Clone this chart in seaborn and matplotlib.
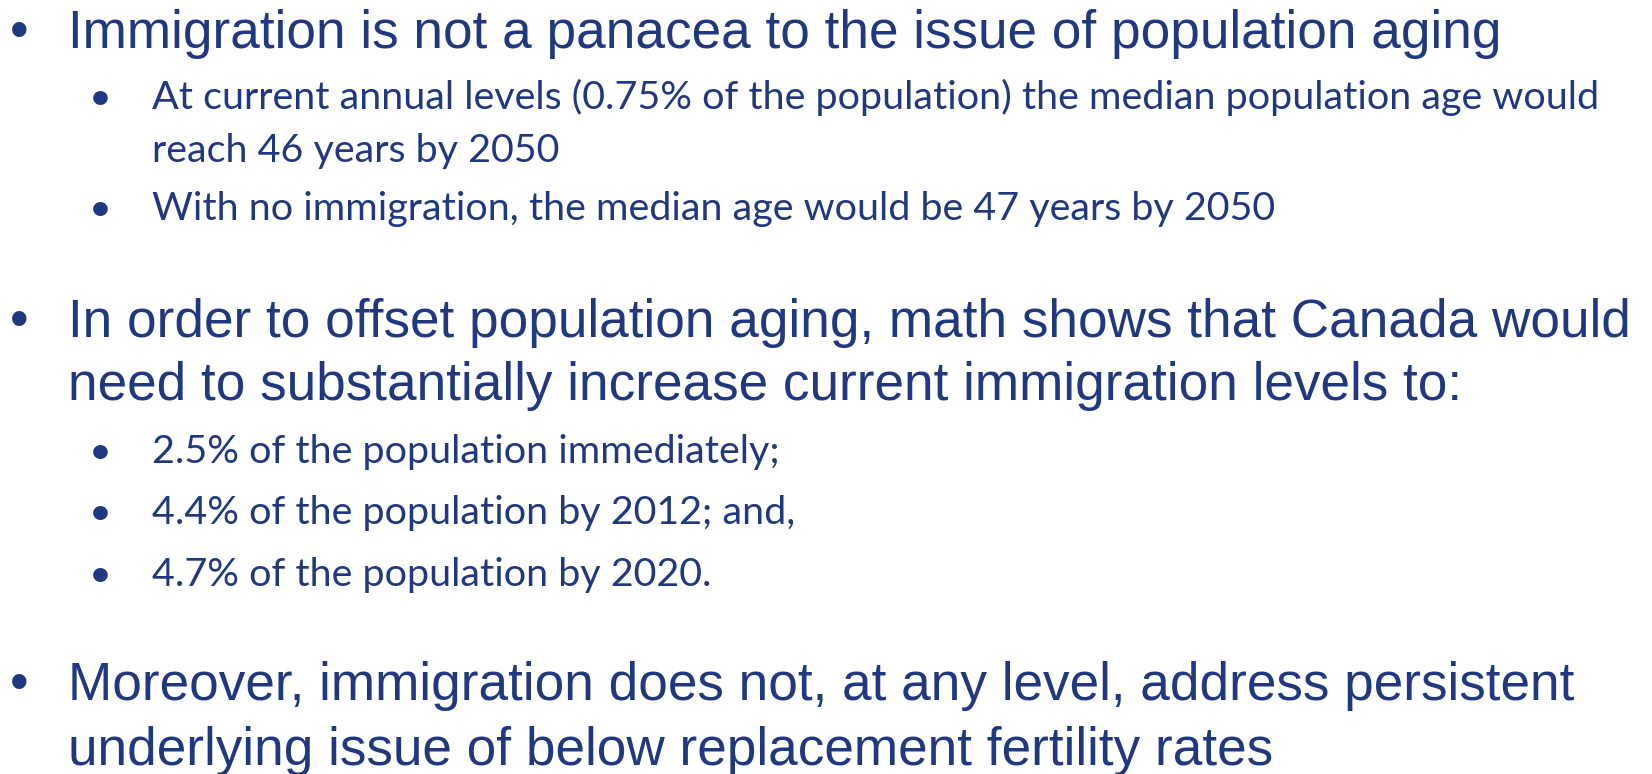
import matplotlib
matplotlib.use("Agg")
import matplotlib.pyplot as plt
import seaborn as sns

# slide text, one entry per rendered line
main_lines = [
    "Immigration is not a panacea to the issue of population aging",
    "In order to offset population aging, math shows that Canada would",
    "need to substantially increase current immigration levels to:",
    "Moreover, immigration does not, at any level, address persistent",
    "underlying issue of below replacement fertility rates",
]
main_bullets = [True, True, False, True, False]

sub_lines = [
    "At current annual levels (0.75% of the population) the median population age would",
    "reach 46 years by 2050",
    "With no immigration, the median age would be 47 years by 2050",
    "2.5% of the population immediately;",
    "4.4% of the population by 2012; and,",
    "4.7% of the population by 2020.",
]
sub_bullets = [True, False, True, True, True, True]

# layout (pixel baselines, top-left origin)
main_y = [48, 337, 400, 700, 765]
sub_y = [109, 162, 220, 463, 524, 586]
main_x, main_bx = 68, 19
sub_x, sub_bx = 152, 100
main_target_w = 1501 - 68   # width of the first main line in the slide
sub_target_w = 1601 - 152   # width of the first sub line

navy = "#1F387F"

sns.set_theme(style="white")
plt.rcParams["font.family"] = ["Liberation Sans", "DejaVu Sans"]

fig = plt.figure(figsize=(16.52, 7.74), dpi=100)
ax = fig.add_axes([0, 0, 1, 1])
ax.set_xlim(0, 1652)
ax.set_ylim(774, 0)
ax.axis("off")

main_font = ["Liberation Sans", "DejaVu Sans"]
sub_font = ["Lato", "DejaVu Sans"]
main_size, sub_size = 42, 32

main_txt = [ax.text(main_x, y, s, fontsize=main_size, color=navy, family=main_font,
                    ha="left", va="baseline") for s, y in zip(main_lines, main_y)]
sub_txt = [ax.text(sub_x, y, s, fontsize=sub_size, color=navy, family=sub_font,
                   ha="left", va="baseline") for s, y in zip(sub_lines, sub_y)]

# fit sizes so the line widths match the slide
fig.canvas.draw()
r = fig.canvas.get_renderer()
k_main = main_target_w / main_txt[0].get_window_extent(r).width
k_sub = sub_target_w / sub_txt[0].get_window_extent(r).width
main_size *= k_main
sub_size *= k_sub
for t in main_txt:
    t.set_fontsize(main_size)
for t in sub_txt:
    t.set_fontsize(sub_size)

for b, y in zip(main_bullets, main_y):
    if b:
        ax.text(main_bx, y, "\u2022", fontsize=main_size, color=navy, family=main_font,
                ha="center", va="baseline")
for b, y in zip(sub_bullets, sub_y):
    if b:
        ax.text(sub_bx, y, "\u2022", fontsize=sub_size, color=navy, family=sub_font,
                ha="center", va="baseline")

fig.savefig("out.png", dpi=100, facecolor="white")
